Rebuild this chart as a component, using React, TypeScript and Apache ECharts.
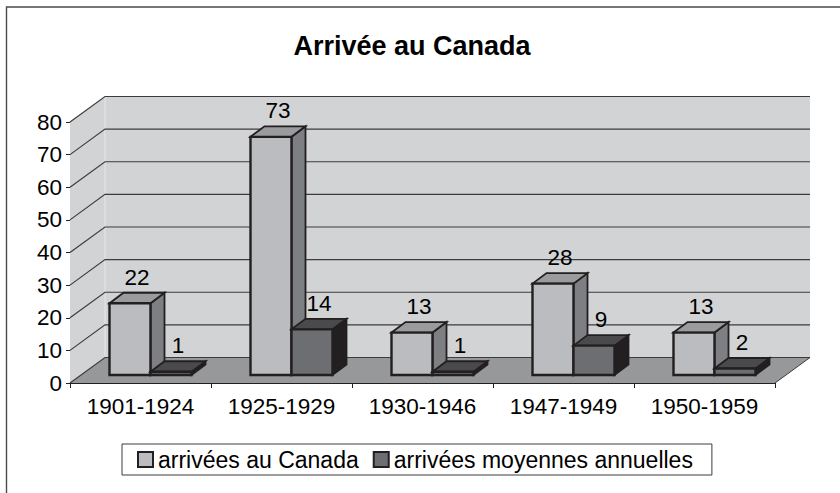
import React, { useEffect, useRef } from "react";
import * as echarts from "echarts";

const categories = ["1901-1924", "1925-1929", "1930-1946", "1947-1949", "1950-1959"];
const arrivals = [22, 73, 13, 28, 13];
const yearly = [1, 14, 1, 9, 2];
const yTicks = [0, 10, 20, 30, 40, 50, 60, 70, 80];
const seriesNames = ["arrivées au Canada", "arrivées moyennes annuelles"];
const titleText = "Arrivée au Canada";

const FONT = "'Liberation Sans', Arial, sans-serif";
const INK = "#231f20";
const WALL_DX = 35;
const WALL_DY = -25.5;
const BAR_SHIFT = [10, -8];
const BAR_DX = 14;
const BAR_DY = -10.5;
const BAR_W = 41;

function poly(points: number[][], fill: string, stroke: string, lineWidth: number) {
  return {
    type: "polygon",
    shape: { points },
    style: { fill, stroke, lineWidth, lineJoin: "miter" },
  };
}

function wallItem(params: any, api: any) {
  const cs = params.coordSys;
  const value = api.value(1);
  const y = api.coord([0, value])[1];
  const left = cs.x;
  const right = cs.x + cs.width;
  const children: any[] = [];
  if (params.dataIndex === 0) {
    const top = cs.y;
    const bottom = cs.y + cs.height;
    children.push(
      poly(
        [[left, top], [left + WALL_DX, top + WALL_DY], [left + WALL_DX, bottom + WALL_DY], [left, bottom]],
        "#d2d3d5", "none", 0
      ),
      poly(
        [[left + WALL_DX, top + WALL_DY], [right + WALL_DX, top + WALL_DY], [right + WALL_DX, bottom + WALL_DY], [left + WALL_DX, bottom + WALL_DY]],
        "#d2d3d5", "none", 0
      ),
      {
        type: "line",
        shape: { x1: left + WALL_DX, y1: top + WALL_DY, x2: left + WALL_DX, y2: bottom + WALL_DY },
        style: { stroke: "#e6e7e8", lineWidth: 1 },
      },
      poly(
        [[left, bottom], [left + WALL_DX, bottom + WALL_DY], [right + WALL_DX, bottom + WALL_DY], [right, bottom]],
        "#97989a", "none", 0
      )
    );
  }
  children.push({
    type: "polyline",
    shape: { points: [[left, y], [left + WALL_DX, y + WALL_DY], [right + WALL_DX, y + WALL_DY]] },
    style: { fill: "none", stroke: "#3c3c3e", lineWidth: 1.2 },
  });
  if (params.dataIndex === 0) {
    children.push({
      type: "line",
      shape: { x1: right, y1: y, x2: right + WALL_DX, y2: y + WALL_DY },
      style: { stroke: "#3c3c3e", lineWidth: 1 },
    });
  }
  return { type: "group", children };
}

function barRenderer(slot: number, front: string, top: string, side: string) {
  return (params: any, api: any) => {
    const idx = api.value(0);
    const val = api.value(1);
    const base = api.coord([idx, 0]);
    const head = api.coord([idx, val]);
    const x0 = base[0] + BAR_SHIFT[0] - BAR_W + slot * BAR_W;
    const x1 = x0 + BAR_W;
    const yB = base[1] + BAR_SHIFT[1];
    const yT = head[1] + BAR_SHIFT[1];
    return {
      type: "group",
      children: [
        poly([[x1, yT], [x1 + BAR_DX, yT + BAR_DY], [x1 + BAR_DX, yB + BAR_DY], [x1, yB]], side, INK, 1.8),
        poly([[x0, yT], [x0 + BAR_DX, yT + BAR_DY], [x1 + BAR_DX, yT + BAR_DY], [x1, yT]], top, INK, 1.8),
        poly([[x0, yT], [x1, yT], [x1, yB], [x0, yB]], front, INK, 2.4),
        {
          type: "text",
          style: {
            x: (x0 + x1) / 2 + BAR_DX / 2,
            y: yT + BAR_DY - 15.5,
            text: String(val),
            font: `22.5px ${FONT}`,
            fill: "#000",
            textAlign: "center",
            textVerticalAlign: "middle",
          },
        },
      ],
    };
  };
}

export default function App() {
  const ref = useRef<HTMLDivElement>(null);
  useEffect(() => {
    document.body.style.margin = "0";
    const chart = echarts.init(ref.current!, null, { renderer: "svg" });
    chart.setOption({
      animation: false,
      backgroundColor: "#fff",
      title: {
        text: titleText,
        left: 407,
        top: 27,
        textAlign: "center",
        textStyle: { fontFamily: FONT, fontWeight: "bold", fontSize: 27, color: "#000" },
      },
      grid: { left: 70, right: 65, top: 122, bottom: 110, containLabel: false },
      xAxis: {
        type: "category",
        data: categories,
        axisLine: { onZero: false, lineStyle: { color: INK, width: 1 } },
        axisTick: { show: true, alignWithLabel: false, length: 5, lineStyle: { color: INK } },
        axisLabel: { fontFamily: FONT, fontSize: 22.5, color: "#000", margin: 12 },
      },
      yAxis: {
        type: "value",
        min: 0,
        max: 80,
        interval: 10,
        splitLine: { show: false },
        axisLine: { show: true, lineStyle: { color: INK, width: 1 } },
        axisTick: { show: true, length: 4, lineStyle: { color: INK } },
        axisLabel: { fontFamily: FONT, fontSize: 22.5, color: "#000", margin: 8 },
      },
      legend: {
        left: 122,
        top: 444,
        padding: [4, 19, 4, 15],
        orient: "horizontal",
        data: seriesNames,
        icon: "rect",
        itemWidth: 15,
        itemHeight: 15,
        itemGap: 14,
        itemStyle: { borderColor: INK, borderWidth: 2 },
        borderColor: "#3c3c3e",
        borderWidth: 1,
        selectedMode: false,
        textStyle: { fontFamily: FONT, fontSize: 23, color: "#000" },
      },
      graphic: [
        {
          type: "polyline",
          silent: true,
          shape: { points: [[6.5, 493], [6.5, 7], [840, 7]] },
          style: { fill: "none", stroke: "#4a4a4c", lineWidth: 1.4 },
        },
      ],
      series: [
        {
          type: "custom",
          name: "walls",
          silent: true,
          z: 1,
          encode: { x: 0, y: 1 },
          data: yTicks.map((v) => [0, v]),
          renderItem: wallItem,
        },
        {
          type: "custom",
          name: seriesNames[0],
          z: 2,
          encode: { x: 0, y: 1 },
          itemStyle: { color: "#bbbcbf" },
          data: arrivals.map((v, i) => [i, v]),
          renderItem: barRenderer(0, "#bbbcbf", "#9a9b9d", "#7e7f82"),
        },
        {
          type: "custom",
          name: seriesNames[1],
          z: 3,
          encode: { x: 0, y: 1 },
          itemStyle: { color: "#6d6e71" },
          data: yearly.map((v, i) => [i, v]),
          renderItem: barRenderer(1, "#6d6e71", "#4a4a4c", "#231f20"),
        },
      ],
    });
    return () => chart.dispose();
  }, []);
  return <div ref={ref} style={{ position: "absolute", left: 0, top: 0, width: 840, height: 493 }} />;
}
